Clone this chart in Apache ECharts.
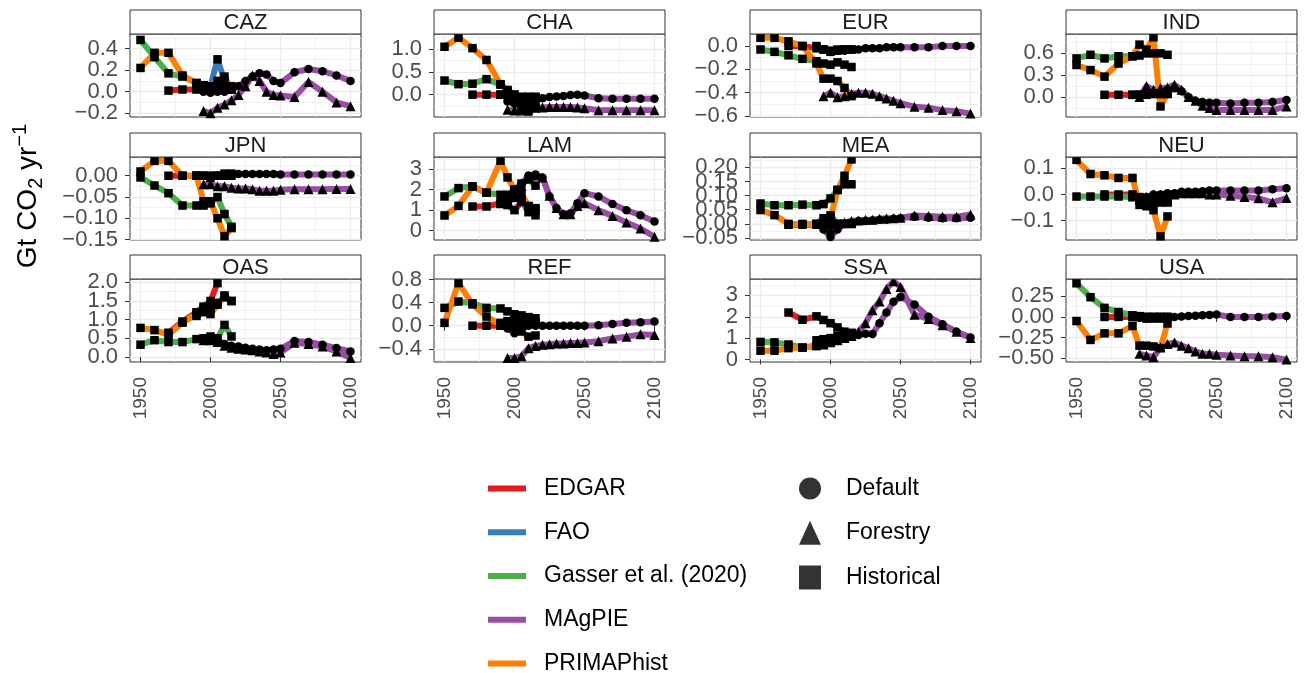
<!DOCTYPE html>
<html>
<head>
<meta charset="utf-8">
<script src="https://cdn.jsdelivr.net/npm/echarts@6/dist/echarts.min.js"></script>
<style>
  html, body { margin: 0; padding: 0; background: #fff; }
  #chart { width: 1311px; height: 673px; }
</style>
</head>
<body>
<div id="chart"></div>
<script>
// ---- data ----
const regions = ['CAZ', 'CHA', 'EUR', 'IND', 'JPN', 'LAM', 'MEA', 'NEU', 'OAS', 'REF', 'SSA', 'USA']

const histYears = [1950, 1960, 1970, 1980, 1990, 1995, 2000, 2005, 2010, 2015]
const edgarYears = [1970, 1980, 1990, 1995, 2000, 2005, 2010, 2015]
const faoYears = [1990, 1995, 2000, 2005, 2010, 2015]
const magpieYears = [1995, 2000, 2005, 2010, 2015, 2020, 2025, 2030, 2035, 2040, 2045, 2050, 2060, 2070, 2080, 2090, 2100]

// one row per region, in the order of `regions`
const gasser = [
  [0.48, 0.32, 0.17, 0.14, 0.08, 0.06, 0.05, 0.04, 0.03, 0.03],
  [0.31, 0.23, 0.24, 0.34, 0.22, 0.10, 0.0, -0.10, -0.20, -0.22],
  [-0.03, -0.05, -0.08, -0.11, -0.13, -0.15, -0.16, -0.14, -0.16, -0.18],
  [0.53, 0.58, 0.53, 0.56, 0.56, 0.57, 0.60, 0.60, 0.60, 0.58],
  [-0.004, -0.023, -0.041, -0.07, -0.07, -0.07, -0.065, -0.05, -0.09, -0.12],
  [1.67, 2.08, 2.16, 1.85, 1.75, 1.75, 2.0, 2.3, 2.5, 2.2],
  [0.072, 0.066, 0.066, 0.068, 0.066, 0.07, 0.09, 0.12, 0.14, 0.14],
  [-0.008, -0.008, -0.008, -0.008, -0.01, -0.015, -0.02, -0.03, -0.03, -0.03],
  [0.33, 0.45, 0.40, 0.40, 0.48, 0.50, 0.55, 0.50, 0.86, 0.55],
  [0.31, 0.42, 0.39, 0.31, 0.30, 0.25, 0.20, 0.18, 0.15, 0.13],
  [0.82, 0.80, 0.70, 0.55, 0.65, 0.75, 0.80, 0.90, 1.00, 1.10],
  [0.41, 0.24, 0.11, 0.06, 0.02, 0.01, 0.0, 0.0, 0.0, 0.0]
]
const primap = [
  [0.22, 0.36, 0.36, 0.15, 0.08, 0.06, 0.05, 0.10, 0.14, 0.02],
  [1.05, 1.25, 1.02, 0.76, 0.23, 0.10, -0.10, -0.30, -0.37, -0.30],
  [0.07, 0.07, 0.04, 0.0, -0.15, -0.28, -0.28, -0.30, -0.36, -0.43],
  [0.44, 0.37, 0.28, 0.46, 0.56, 0.72, 0.65, 0.82, -0.13, 0.05],
  [0.01, 0.035, 0.035, 0.0, 0.0, -0.06, -0.06, -0.10, -0.142, -0.123],
  [0.74, 1.21, 2.16, 1.85, 3.42, 2.6, 2.0, 1.8, 1.2, 0.75],
  [0.049, 0.031, 0.0, 0.0, 0.0, 0.0, 0.02, 0.12, 0.17, 0.228],
  [0.132, 0.078, 0.073, 0.063, 0.063, -0.04, -0.045, -0.06, -0.16, -0.084],
  [0.78, 0.72, 0.60, 0.92, 1.15, 1.30, 1.15, 1.40, 1.65, 1.50],
  [0.05, 0.74, 0.37, 0.16, 0.02, 0.0, -0.03, -0.10, -0.19, -0.17],
  [0.41, 0.41, 0.53, 0.56, 0.62, 0.70, 0.85, 0.95, 1.00, 1.20],
  [-0.05, -0.28, -0.20, -0.20, -0.11, -0.35, -0.35, -0.36, -0.38, -0.08]
]
const edgar = [
  [0.01, 0.02, 0.02, 0.02, 0.01, 0.02, 0.02, 0.02],
  [0.0, 0.0, 0.0, 0.0, 0.0, -0.05, -0.05, -0.05],
  [0.0, 0.0, -0.02, -0.03, -0.04, -0.03, -0.03, -0.03],
  [0.03, 0.03, 0.03, 0.03, 0.03, 0.04, 0.04, 0.04],
  [0.0, 0.0, 0.0, 0.0, 0.0, 0.0, 0.0, 0.0],
  [1.18, 1.18, 1.34, 1.25, 1.0, 1.4, 1.2, 1.1],
  [-0.003, -0.003, -0.003, 0.0, 0.0, 0.0, 0.0, 0.0],
  [0.0, 0.0, 0.0, -0.01, -0.02, -0.02, -0.02, -0.02],
  [0.65, 0.95, 1.20, 1.35, 1.50, 1.98, null, null],
  [0.0, 0.0, 0.0, 0.0, 0.0, 0.05, 0.05, 0.05],
  [2.2, 1.86, 2.02, 1.85, 1.7, 1.5, 1.3, 1.25],
  [0.0, 0.0, 0.0, 0.0, 0.0, 0.0, 0.0, 0.0]
]
const fao = [
  [0.03, 0.03, 0.05, 0.30, 0.10, 0.05],
  [0.0, -0.02, -0.05, -0.05, -0.05, -0.05],
  [0.0, -0.03, -0.05, -0.04, -0.03, -0.03],
  [0.03, 0.03, 0.05, 0.05, 0.05, 0.05],
  [0.0, 0.0, -0.005, 0.0, 0.005, 0.005],
  [1.3, 1.4, 1.6, 1.5, 0.9, 1.0],
  [0.0, 0.02, 0.03, 0.0, 0.0, 0.0],
  [-0.01, -0.02, -0.02, -0.03, -0.03, -0.03],
  [1.1, 1.2, 1.3, 1.45, 1.6, 1.5],
  [0.05, 0.08, 0.10, 0.12, 0.08, 0.05],
  [0.9, 0.95, 1.0, 1.1, 1.15, 1.2],
  [0.0, 0.0, -0.02, -0.02, -0.02, -0.02]
]
const magDefault = [
  [0.0, -0.01, 0.0, 0.0, 0.02, 0.05, 0.10, 0.14, 0.17, 0.16, 0.10, 0.08, 0.18, 0.21, 0.19, 0.15, 0.10],
  [-0.15, -0.20, -0.15, -0.12, -0.10, -0.08, -0.05, -0.04, -0.03, -0.01, 0.0, -0.02, -0.08, -0.09, -0.09, -0.09, -0.09],
  [-0.03, -0.05, -0.04, -0.04, -0.03, -0.03, -0.02, -0.02, -0.02, -0.01, -0.01, -0.01, -0.01, -0.01, 0.0, 0.0, 0.0],
  [0.03, 0.05, 0.05, 0.07, 0.10, 0.12, 0.08, 0.0, -0.05, -0.07, -0.08, -0.08, -0.09, -0.08, -0.08, -0.07, -0.04],
  [0.0, 0.0, 0.0, 0.002, 0.003, 0.004, 0.004, 0.004, 0.004, 0.004, 0.004, 0.003, 0.003, 0.003, 0.003, 0.003, 0.003],
  [1.6, 2.0, 2.3, 2.7, 2.75, 2.6, 1.67, 1.1, 0.8, 0.85, 1.34, 1.83, 1.67, 1.3, 1.0, 0.75, 0.44],
  [-0.02, -0.046, -0.02, 0.0, 0.005, 0.01, 0.01, 0.012, 0.015, 0.015, 0.018, 0.02, 0.025, 0.022, 0.02, 0.02, 0.022],
  [-0.02, -0.01, 0.0, 0.0, 0.005, 0.005, 0.01, 0.01, 0.01, 0.012, 0.015, 0.015, 0.015, 0.015, 0.015, 0.02, 0.024],
  [0.5, 0.5, 0.45, 0.35, 0.3, 0.28, 0.25, 0.22, 0.2, 0.18, 0.2, 0.22, 0.43, 0.40, 0.33, 0.24, 0.15],
  [-0.05, -0.13, -0.05, 0.0, 0.0, 0.0, 0.0, 0.0, 0.0, 0.0, 0.0, 0.0, 0.01, 0.03, 0.05, 0.06, 0.075],
  [0.7, 0.8, 0.9, 1.0, 1.1, 1.15, 1.2, 1.19, 1.7, 2.2, 2.7, 2.93, 2.57, 2.0, 1.65, 1.3, 1.03],
  [-0.01, -0.02, -0.01, 0.0, 0.0, 0.0, 0.005, 0.01, 0.015, 0.02, 0.025, 0.03, 0.0, 0.0, 0.0, 0.005, 0.01]
]
const magForestry = [
  [-0.18, -0.2, -0.15, -0.12, -0.08, -0.03, 0.05, 0.15, 0.10, 0.0, -0.03, -0.035, -0.05, 0.09, 0.0, -0.1, -0.135],
  [-0.33, -0.35, -0.35, -0.30, -0.28, -0.28, -0.27, -0.27, -0.27, -0.27, -0.28, -0.30, -0.34, -0.34, -0.34, -0.34, -0.34],
  [-0.43, -0.40, -0.44, -0.43, -0.41, -0.40, -0.40, -0.41, -0.43, -0.45, -0.47, -0.49, -0.52, -0.53, -0.55, -0.56, -0.58],
  [0.0, 0.15, 0.10, 0.12, 0.13, 0.17, 0.10, 0.0, -0.05, -0.12, -0.15, -0.18, -0.18, -0.18, -0.18, -0.18, -0.13],
  [-0.02, -0.02, -0.025, -0.025, -0.028, -0.03, -0.03, -0.032, -0.035, -0.035, -0.035, -0.033, -0.032, -0.032, -0.032, -0.031, -0.031],
  [1.5, 2.0, 2.2, 2.6, 2.7, 2.6, 1.7, 1.1, 0.8, 0.8, 1.2, 1.34, 1.0, 0.72, 0.4, 0.1, -0.3],
  [0.0, -0.02, 0.0, 0.005, 0.01, 0.012, 0.015, 0.015, 0.018, 0.02, 0.02, 0.022, 0.03, 0.028, 0.025, 0.025, 0.033],
  [-0.02, -0.01, 0.0, 0.0, 0.0, 0.0, 0.005, 0.005, 0.005, 0.005, 0.0, 0.0, -0.005, -0.01, -0.015, -0.03, -0.014],
  [0.45, 0.45, 0.4, 0.3, 0.25, 0.22, 0.2, 0.18, 0.15, 0.12, 0.08, 0.12, 0.38, 0.35, 0.28, 0.15, -0.03],
  [-0.56, -0.56, -0.53, -0.39, -0.35, -0.33, -0.32, -0.31, -0.31, -0.30, -0.30, -0.29, -0.27, -0.22, -0.19, -0.15, -0.16],
  [0.7, 0.8, 0.9, 1.0, 1.1, 1.3, 1.7, 2.3, 2.72, 3.3, 3.66, 3.4, 2.1, 1.9, 1.6, 1.3, 1.0],
  [-0.45, -0.47, -0.49, -0.37, -0.33, -0.31, -0.35, -0.38, -0.42, -0.45, -0.45, -0.46, -0.47, -0.48, -0.48, -0.49, -0.52]
]

// axis ranges and tick labels per panel
const yMin = [-0.235, -0.49, -0.609, -0.275, -0.151, -0.46, -0.057, -0.174, -0.134, -0.63, -0.12, -0.549]
const yMax = [0.535, 1.33, 0.103, 0.866, 0.044, 3.6, 0.2365, 0.143, 2.09, 0.812, 3.77, 0.462]
const yTicks = [
  [-0.2, 0, 0.2, 0.4],
  [0, 0.5, 1.0],
  [-0.6, -0.4, -0.2, 0],
  [0, 0.3, 0.6],
  [-0.15, -0.1, -0.05, 0],
  [0, 1, 2, 3],
  [-0.05, 0, 0.05, 0.1, 0.15, 0.2],
  [-0.1, 0, 0.1],
  [0, 0.5, 1, 1.5, 2],
  [-0.4, 0, 0.4, 0.8],
  [0, 1, 2, 3],
  [-0.5, -0.25, 0, 0.25]
]
const yDigits = [1, 1, 1, 1, 2, 0, 2, 1, 1, 1, 0, 2]
const xTicks = [1950, 2000, 2050, 2100]

// ---- styling ----
const FONT = '"Liberation Sans", Arial, sans-serif'
const colors = { EDGAR: '#E41A1C', FAO: '#377EB8', Gasser: '#4DAF4A', MAgPIE: '#984EA3', PRIMAPhist: '#FF7F00' }
const colLeft = [130, 434, 750, 1066]
const rowTop = [34, 157, 279]
const panelW = 231
const panelH = 83
const stripH = 24
const Y_FS = 22
const X_FS = 19

const fmt = (v, d) => (v < 0 ? '\u2212' : '') + Math.abs(v).toFixed(d)
const midpoints = arr => {
  const step = arr[1] - arr[0]
  const out = [arr[0] - step / 2]
  arr.forEach(v => out.push(+(v + step / 2).toFixed(6)))
  return out
}
const yLabelStyle = i => ({
  margin: 12, showMinLabel: true, showMaxLabel: true, hideOverlap: false,
  color: '#4D4D4D', fontSize: Y_FS, fontFamily: FONT, formatter: v => fmt(v, yDigits[i])
})

const chart = echarts.init(document.getElementById('chart'), null, { renderer: 'canvas' })

const grids = []
const xAxes = []
const yAxes = []
const series = []
const graphics = []

regions.forEach((reg, i) => {
  const left = colLeft[i % 4]
  const top = rowTop[Math.floor(i / 4)]
  const bottomRow = i >= 8
  grids.push({ left, top, width: panelW, height: panelH, show: true, borderColor: '#333', borderWidth: 1, backgroundColor: '#fff' })

  // major x axis
  xAxes.push({
    type: 'value', gridIndex: i, min: 1942.5, max: 2107.5, position: 'bottom',
    axisLine: { show: false },
    axisTick: { show: bottomRow, length: 5, customValues: xTicks, lineStyle: { color: '#333', width: 1 } },
    axisLabel: {
      show: bottomRow, customValues: xTicks, rotate: 90, margin: 15, showMinLabel: true, showMaxLabel: true,
      color: '#4D4D4D', fontSize: X_FS, fontFamily: FONT, formatter: v => String(v)
    },
    splitLine: { show: true, lineStyle: { color: '#EBEBEB', width: 1.3 } }
  })
  // minor x axis (grid lines only)
  xAxes.push({
    type: 'value', gridIndex: i, min: 1942.5, max: 2107.5, position: 'bottom',
    axisLine: { show: false },
    axisTick: { show: false, customValues: midpoints(xTicks) },
    axisLabel: { show: false },
    splitLine: { show: true, lineStyle: { color: '#EBEBEB', width: 0.7 } }
  })
  // tick labels are split over the two y axes so that the library never drops overlapping ones
  const evenTicks = yTicks[i].filter((v, k) => k % 2 === 0)
  const oddTicks = yTicks[i].filter((v, k) => k % 2 === 1)
  yAxes.push({
    type: 'value', gridIndex: i, min: yMin[i], max: yMax[i], position: 'left',
    axisLine: { show: false },
    axisTick: { show: true, length: 5, customValues: yTicks[i], lineStyle: { color: '#333', width: 1 } },
    axisLabel: Object.assign({ customValues: evenTicks }, yLabelStyle(i)),
    splitLine: { show: true, lineStyle: { color: '#EBEBEB', width: 1.3 } }
  })
  yAxes.push({
    type: 'value', gridIndex: i, min: yMin[i], max: yMax[i], position: 'left',
    axisLine: { show: false },
    axisTick: { show: false, customValues: midpoints(yTicks[i]) },
    axisLabel: Object.assign({ customValues: oddTicks }, yLabelStyle(i)),
    splitLine: { show: true, lineStyle: { color: '#EBEBEB', width: 0.7 } }
  })

  // facet strip
  graphics.push({
    type: 'rect', shape: { x: left, y: top - stripH, width: panelW, height: stripH },
    style: { fill: '#fff', stroke: '#333', lineWidth: 1 }, z: 10
  })
  graphics.push({
    type: 'text', x: left + panelW / 2, y: top - stripH / 2 + 1, z: 11,
    style: { text: reg, fill: '#1A1A1A', font: '22px ' + FONT, textAlign: 'center', textVerticalAlign: 'middle' }
  })

  const layers = [
    { name: 'EDGAR', color: colors.EDGAR, years: edgarYears, vals: edgar[i], symbol: 'rect', size: 8.5 },
    { name: 'FAO', color: colors.FAO, years: faoYears, vals: fao[i], symbol: 'rect', size: 8.5 },
    { name: 'Gasser', color: colors.Gasser, years: histYears, vals: gasser[i], symbol: 'rect', size: 8.5 },
    { name: 'MAgPIE Default', color: colors.MAgPIE, years: magpieYears, vals: magDefault[i], symbol: 'circle', size: 8.5 },
    { name: 'MAgPIE Forestry', color: colors.MAgPIE, years: magpieYears, vals: magForestry[i], symbol: 'triangle', size: 10 },
    { name: 'PRIMAPhist', color: colors.PRIMAPhist, years: histYears, vals: primap[i], symbol: 'rect', size: 8.5 }
  ]
  layers.forEach(l => {
    const data = l.years.map((y, k) => [y, l.vals[k]])
    series.push({
      type: 'line', name: reg + ' ' + l.name, xAxisIndex: 2 * i, yAxisIndex: 2 * i,
      data, symbol: 'none', silent: true, z: 2,
      lineStyle: { color: l.color, width: 6, cap: 'butt', join: 'round' },
      itemStyle: { color: l.color }
    })
    series.push({
      type: 'scatter', name: reg + ' ' + l.name + ' pts', xAxisIndex: 2 * i, yAxisIndex: 2 * i,
      data: data.filter(d => d[1] !== null), symbol: l.symbol, symbolSize: l.size, silent: true, z: 3,
      itemStyle: { color: '#000', opacity: 1 }
    })
  })
})

// invisible helper panel carrying the shared y-axis title
grids.push({ left: 130, top: 20, width: 1, height: 352, show: false })
xAxes.push({ type: 'value', gridIndex: 12, show: false })
yAxes.push({
  type: 'value', gridIndex: 12, position: 'left',
  axisLine: { show: false }, axisTick: { show: false }, axisLabel: { show: false }, splitLine: { show: false },
  name: '{n|Gt CO}{sub|2}{n| yr}{sup|\u22121}', nameLocation: 'middle', nameGap: 84, nameRotate: 90,
  nameTextStyle: {
    fontFamily: FONT, color: '#000', fontSize: 28,
    rich: {
      n: { fontSize: 28, fontFamily: FONT, color: '#000' },
      sub: { fontSize: 20, fontFamily: FONT, color: '#000', padding: [16, 0, 0, 0] },
      sup: { fontSize: 20, fontFamily: FONT, color: '#000', padding: [0, 0, 16, 0] }
    }
  }
})

// legend helper series (no data)
const legendSources = ['EDGAR', 'FAO', 'Gasser et al. (2020)', 'MAgPIE', 'PRIMAPhist']
const legendColors = [colors.EDGAR, colors.FAO, colors.Gasser, colors.MAgPIE, colors.PRIMAPhist]
const legendShapes = ['Default', 'Forestry', 'Historical']
const legendShapeIcons = ['circle', 'triangle', 'rect']
legendSources.forEach((n, k) => {
  series.push({ type: 'line', name: n, xAxisIndex: 0, yAxisIndex: 0, data: [], symbol: 'none',
    itemStyle: { color: legendColors[k] }, lineStyle: { color: legendColors[k] } })
})
legendShapes.forEach((n, k) => {
  series.push({ type: 'scatter', name: n, xAxisIndex: 0, yAxisIndex: 0, data: [], symbol: legendShapeIcons[k],
    itemStyle: { color: '#000' } })
})

const option = {
  animation: false,
  backgroundColor: '#fff',
  grid: grids,
  xAxis: xAxes,
  yAxis: yAxes,
  series,
  graphic: graphics,
  legend: [
    {
      orient: 'vertical', left: 488, top: 477, height: 230, padding: 0,
      itemWidth: 38, itemHeight: 24, itemGap: 20.75,
      selectedMode: false, symbolKeepAspect: true,
      icon: 'path://M0,0H38V6H0Z',
      textStyle: { fontSize: 23, fontFamily: FONT, color: '#000', padding: [0, 0, 0, 13] },
      data: legendSources.map((n, k) => ({ name: n, itemStyle: { color: legendColors[k] } }))
    },
    {
      orient: 'vertical', left: 799, top: 477, height: 230, padding: 0,
      itemWidth: 22, itemHeight: 24, itemGap: 20.75,
      selectedMode: false,
      textStyle: { fontSize: 23, fontFamily: FONT, color: '#000', padding: [0, 0, 0, 20] },
      data: legendShapes.map((n, k) => ({ name: n, icon: legendShapeIcons[k], itemStyle: { color: '#000' } }))
    }
  ]
}

chart.setOption(option)
</script>
</body>
</html>
